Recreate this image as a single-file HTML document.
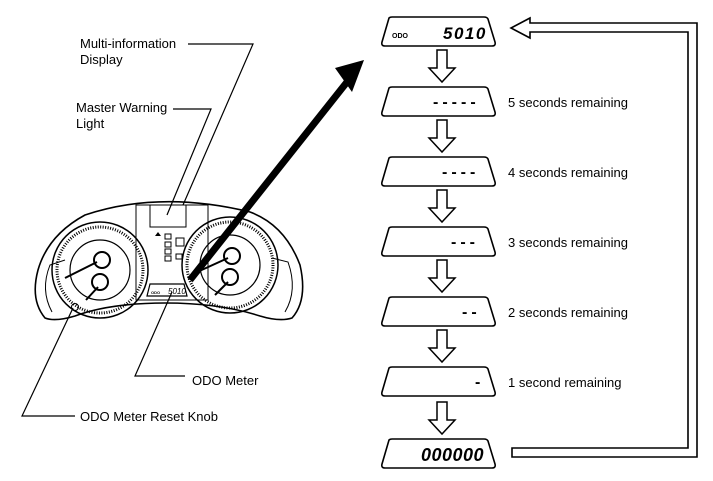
<!DOCTYPE html>
<html><head><meta charset="utf-8"><style>
html,body{margin:0;padding:0;background:#fff}
svg{display:block}
text{font-family:"Liberation Sans",Arial,sans-serif;fill:#000}
</style></head><body>
<svg width="713" height="481" viewBox="0 0 713 481" xmlns="http://www.w3.org/2000/svg">
<defs>
<path id="disp" d="M389,0 Q390,-1 392,-1 L484,-1 Q487,-1 488,1 L495,24 Q496,28 492,28 L385,28 Q381,28 382,24 Z" fill="#fff" stroke="#000" stroke-width="1.6"/>
<path id="darr" d="M437,0 L447,0 L447,18 L455,18 L442,32 L429,18 L437,18 Z" fill="#fff" stroke="#000" stroke-width="1.5"/>
</defs>
<use href="#disp" y="18"/><use href="#disp" y="88"/><use href="#disp" y="158"/><use href="#disp" y="228"/><use href="#disp" y="298"/><use href="#disp" y="368"/><use href="#disp" y="440"/>
<use href="#darr" y="50"/><use href="#darr" y="120"/><use href="#darr" y="190"/><use href="#darr" y="260"/><use href="#darr" y="330"/><use href="#darr" y="402"/>
<text x="392" y="38" font-size="7" font-weight="bold">ODO</text>
<text x="443" y="39" font-size="17" font-style="italic" font-weight="bold" letter-spacing="1.5">5010</text>
<text x="433" y="107" font-size="16" font-weight="bold" letter-spacing="4">-----</text>
<text x="442" y="177" font-size="16" font-weight="bold" letter-spacing="4">----</text>
<text x="451" y="247" font-size="16" font-weight="bold" letter-spacing="4">---</text>
<text x="462" y="317" font-size="16" font-weight="bold" letter-spacing="4">--</text>
<text x="475" y="387" font-size="16" font-weight="bold">-</text>
<text x="421" y="461" font-size="18" font-style="italic" font-weight="bold" letter-spacing="0.5">000000</text>
<g font-size="13">
<text x="508" y="107">5 seconds remaining</text>
<text x="508" y="177">4 seconds remaining</text>
<text x="508" y="247">3 seconds remaining</text>
<text x="508" y="317">2 seconds remaining</text>
<text x="508" y="387">1 second remaining</text>
</g>
<path d="M512,448 L688,448 L688,32 L530,32 L530,38 L511,28 L530,18 L530,23 L697,23 L697,457 L512,457 Z" fill="#fff" stroke="#000" stroke-width="1.6"/>
<g fill="none" stroke="#000">
<path d="M45,318 Q30,300 38,270 Q48,235 85,215 Q160,190 250,212 Q285,225 300,265 Q308,300 292,318 Q280,322 260,316 Q220,303 165,303 Q110,303 75,316 Q55,322 45,318 Z" stroke-width="1.6"/>
<path d="M52,312 Q40,290 50,265 L65,260" stroke-width="1"/>
<path d="M285,312 Q298,290 288,262 L272,258" stroke-width="1"/>
<rect x="136" y="205" width="72" height="95" stroke-width="1"/>
<rect x="150" y="205" width="36" height="22" stroke-width="1"/>
<circle cx="100" cy="270" r="48" stroke-width="1.5"/>
<circle cx="100" cy="270" r="43" stroke-width="3" stroke-dasharray="1 1.5"/>
<circle cx="100" cy="270" r="30" stroke-width="1.2"/>
<circle cx="230" cy="265" r="48" stroke-width="1.5"/>
<circle cx="230" cy="265" r="43" stroke-width="3" stroke-dasharray="1 1.5"/>
<circle cx="230" cy="265" r="30" stroke-width="1.2"/>
<circle cx="102" cy="260" r="8" stroke-width="2"/><circle cx="100" cy="282" r="8" stroke-width="2"/>
<circle cx="232" cy="256" r="8" stroke-width="2"/><circle cx="230" cy="277" r="8" stroke-width="2"/>
<path d="M65,278 L97,262 M86,300 L98,287 M195,273 L228,258 M215,295 L228,282" stroke-width="2"/>
<rect x="165" y="234" width="6" height="5" stroke-width="1"/><rect x="165" y="242" width="6" height="5" stroke-width="1"/><rect x="165" y="249" width="6" height="5" stroke-width="1"/><rect x="165" y="256" width="6" height="5" stroke-width="1"/>
<rect x="176" y="238" width="8" height="8" stroke-width="1"/><rect x="176" y="254" width="6" height="5" stroke-width="1"/>
<path d="M150,284 L184,284 L187,296 L147,296 Z" stroke-width="1.2"/>
<circle cx="75" cy="307" r="3.5" stroke-width="1"/>
</g>
<polygon points="155,236 158,232 161,236" fill="#000"/>
<text x="151" y="294" font-size="4" font-weight="bold">ODO</text>
<text x="168" y="294" font-size="8" font-style="italic">5010</text>
<path d="M190,280 L347,82" stroke="#000" stroke-width="7"/>
<polygon points="364,60 335,68 352,92" fill="#000"/>
<g fill="none" stroke="#000" stroke-width="1.2">
<path d="M188,44 L253,44 L183,205"/>
<path d="M173,109 L211,109 L167,215"/>
<path d="M185,376 L135,376 L172,292"/>
<path d="M75,416 L22,416 L73,308"/>
</g>
<g font-size="13">
<text x="80" y="48">Multi-information</text>
<text x="80" y="64">Display</text>
<text x="76" y="112">Master Warning</text>
<text x="76" y="128">Light</text>
<text x="192" y="385">ODO Meter</text>
<text x="80" y="421">ODO Meter Reset Knob</text>
</g>
</svg>
</body></html>
